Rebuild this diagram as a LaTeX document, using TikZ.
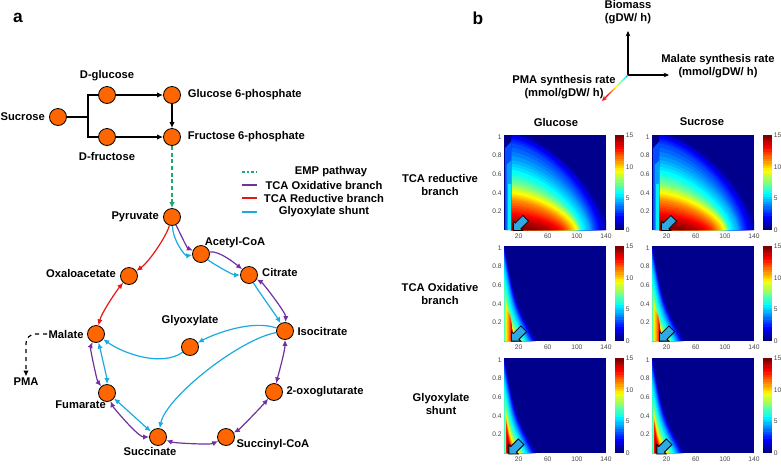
\documentclass[tikz,border=0pt]{standalone}
\usepackage{fontspec}
\setmainfont{Liberation Sans}
\usetikzlibrary{arrows.meta,positioning,shapes.arrows,calc}

\definecolor{metorange}{RGB}{255,102,0}
\definecolor{tcaox}{RGB}{112,48,160}
\definecolor{tcared}{RGB}{235,20,20}
\definecolor{glyox}{RGB}{25,170,225}
\definecolor{empgreen}{RGB}{30,170,110}
\definecolor{jetbg}{rgb}{0,0,0.55}
\definecolor{arrblue}{RGB}{45,170,228}
\definecolor{ticktext}{RGB}{70,70,70}

% jet colour map, value in [0,1] -> colour jc
\newcommand{\setjet}[1]{%
  \pgfmathsetmacro{\jetR}{max(0,min(1,1.5-abs(4*(#1)-3)))}%
  \pgfmathsetmacro{\jetG}{max(0,min(1,1.5-abs(4*(#1)-2)))}%
  \pgfmathsetmacro{\jetB}{max(0,min(1,1.5-abs(4*(#1)-1)))}%
  \definecolor{jc}{rgb}{\jetR,\jetG,\jetB}}

% one contour of the reductive map: value, x radius, y radius
\newcommand{\hlayer}[3]{%
  \setjet{#1}%
  \fill[jc] (10,0) -- ({10+(#2)},0) -- plot[domain=1:89,samples=30] ({10+(#2)*cos(\x)^1.333},{(#3)*sin(\x)^1.333}) -- (10,{#3}) -- cycle;}

% one contour of a wedge map: value, left x, height, right x
\newcommand{\wlayer}[4]{%
  \setjet{#1}%
  \fill[jc] ({#2},0) -- ({#2},{#3}) .. controls ({(#2)+0.35*((#4)-(#2))},{0.4*(#3)}) .. ({#4},0) -- cycle;}

% TCA reductive branch map
\newcommand{\hmapred}{%
  \fill[jetbg] (0,0) rectangle (140,1.02);
  \foreach \v/\rx/\ry [remember=\v as \pv (initially 0), remember=\rx as \prx (initially 136), remember=\ry as \pry (initially 1.08)] in {0.05/130/1.04,0.10/125/1.02,0.15/120/0.98,0.20/115/0.93,0.25/111/0.84,0.30/108/0.75,0.35/102/0.68,0.40/97/0.61,0.45/95/0.555,0.50/94/0.50,0.55/92/0.465,0.60/91/0.43,0.65/88/0.39,0.70/84/0.355,0.75/80/0.32,0.80/76/0.265,0.85/71/0.21,0.90/63/0.16,0.95/53/0.11,1.00/35/0.05}{%
    \hlayer{(\pv+\v)/2}{(\prx+\rx)/2}{(\pry+\ry)/2}
    \hlayer{\v}{\rx}{\ry}
  }
  \setjet{0.2}
  \fill[jc] (1.5,0) -- (1.5,0.88) -- (10,0.95) -- (10,0) -- cycle;
  \setjet{0.28}
  \fill[jc] (3.5,0) -- (3.5,0.7) -- (10,0.75) -- (10,0) -- cycle;
  \setjet{0.36}
  \fill[jc] (6,0) rectangle (10,0.5);
}

% wedge shaped maps
\newcommand{\hmapwedge}[1]{%
  \fill[jetbg] (0,0) rectangle (140,1.02);
  \foreach \v/\xl/\h/\xr [remember=\v as \pv (initially 0), remember=\xl as \pxl (initially 0), remember=\h as \ph (initially 1.08), remember=\xr as \pxr (initially 46)] in {#1}{%
    \wlayer{(\pv+\v)/2}{(\pxl+\xl)/2}{(\ph+\h)/2}{(\pxr+\xr)/2}
    \wlayer{\v}{\xl}{\h}{\xr}
  }}
\newcommand{\hmapox}{\hmapwedge{0.10/0/1.02/42,0.20/0/0.96/38,0.30/0/0.88/34,0.375/0/0.75/30,0.45/0.5/0.60/27,0.53/1.5/0.50/24,0.60/2.5/0.42/21,0.68/4/0.36/18.5,0.76/7/0.31/16.5,0.84/9/0.28/15,0.92/10/0.20/14,1.00/10.5/0.07/13.5}}
\newcommand{\hmapgly}{\hmapwedge{0.10/0/1.02/42,0.20/0/0.95/38,0.30/0/0.86/34,0.375/0.3/0.74/30,0.45/0.8/0.62/27,0.53/1.3/0.53/24,0.60/1.8/0.46/21,0.68/2.3/0.40/18.5,0.76/2.8/0.35/16,0.84/3.3/0.31/14,0.92/3.8/0.23/12.5,1.00/4.3/0.11/11}}

% colour bar, ticks and marker
\newcommand{\hmapaxes}[2]{%
  \foreach \i in {0,...,39}{\setjet{\i/39}\fill[jc] (152.3,{1.02*\i/40}) rectangle (164.7,{1.02*(\i+1.2)/40});}
  \foreach \c [count=\k] in {0,5,10,15} \node[ticklbl, anchor=west] (cb\k) at (165.5,{1.02*\c/15}) {\c};
  \foreach \t [count=\k] in {0.2,0.4,0.6,0.8,1} \node[ticklbl, anchor=east] (yt\k) at (-1.5,\t) {\t};
  \foreach \t [count=\k] in {20,60,100,140} \node[ticklbl, anchor=north] (xt\k) at (\t,-0.03) {\t};
  \node[blockarr, rotate=225] (pick) at (#1,#2) {};
}

\begin{document}
\begin{tikzpicture}[
    x=0.75pt, y=-0.75pt,
    hd/.tip={Latex[length=4.5pt,width=4pt]},
    met/.style={circle, draw=black, fill=metorange, line width=0.6pt, minimum size=12.75pt, inner sep=0pt},
    lbl/.style={font=\fontsize{8.4}{10}\selectfont\bfseries, inner sep=1pt, align=center},
    panel/.style={font=\fontsize{13}{14}\selectfont\bfseries},
    arr/.style={-hd, line width=0.9pt},
    darr/.style={hd-hd, line width=0.9pt},
    axarr/.style={-{Stealth[length=4pt,width=3.5pt]}, line width=0.8pt},
    ticklbl/.style={font=\fontsize{5}{6}\selectfont, text=ticktext, inner sep=0.8pt},
    blockarr/.style={single arrow, draw=black, fill=arrblue, line width=0.6pt, minimum height=13pt, minimum width=10pt, inner sep=2.4pt, single arrow head extend=1.8pt}
]
    \useasboundingbox (0,0) rectangle (781,465);

    \node[panel] (pa) at (18,18) {a};
    \node[panel] (pb) at (478,18) {b};

    % sugars
    \node[met] (suc) at (58,117) {};
    \node[met] (glc) at (107,95) {};
    \node[met] (fru) at (107,137) {};
    \node[met] (g6p) at (172,95) {};
    \node[met] (f6p) at (172,137) {};
    \node[lbl, left=2pt of suc] (sucl) {Sucrose};
    \node[lbl, above=2.5pt of glc] (glcl) {D-glucose};
    \node[lbl, below=3.5pt of fru] (frul) {D-fructose};
    \node[lbl, right=4pt of g6p] (g6pl) {Glucose 6-phosphate};
    \node[lbl, right=4pt of f6p] (f6pl) {Fructose 6-phosphate};

    \coordinate (split) at (88,117);
    \draw[line width=0.9pt] (suc) -- (split);
    \draw[line width=0.9pt] (split) |- (glc);
    \draw[line width=0.9pt] (split) |- (fru);
    \draw[arr] (glc) -- (g6p);
    \draw[arr] (fru) -- (f6p);
    \draw[arr] (g6p) -- (f6p);

    % central metabolism
    \node[met] (pyr) at (172,217) {};
    \node[met] (acoa) at (201,254) {};
    \node[met] (cit) at (249,275) {};
    \node[met] (iso) at (285,331) {};
    \node[met] (ogl) at (274,392) {};
    \node[met] (scoa) at (226,437) {};
    \node[met] (succ) at (158,437) {};
    \node[met] (fum) at (107,393) {};
    \node[met] (mal) at (96,334) {};
    \node[met] (oaa) at (129,276) {};
    \node[met] (gly) at (190,347) {};

    \node[lbl, left=2pt of pyr] (pyrl) {Pyruvate};
    \node[lbl, above right=-1pt and -3pt of acoa] (acoal) {Acetyl-CoA};
    \node[lbl, right=2pt of cit, yshift=2pt] (citl) {Citrate};
    \node[lbl, right=1.5pt of iso] (isol) {Isocitrate};
    \node[lbl, right=1.5pt of ogl] (ogll) {2-oxoglutarate};
    \node[lbl, right=0pt of scoa, yshift=-6pt] (scoal) {Succinyl-CoA};
    \node[lbl, below=0pt of succ, xshift=-6pt] (succl) {Succinate};
    \node[lbl, below left=0pt and -5pt of fum] (fuml) {Fumarate};
    \node[lbl, left=1.5pt of mal] (mall) {Malate};
    \node[lbl, left=2pt of oaa, yshift=2pt] (oaal) {Oxaloacetate};
    \node[lbl, above=8pt of gly] (glyl) {Glyoxylate};
    \node[lbl] (pma) at (26,382) {PMA};

    \draw[arr, empgreen, dash pattern=on 3pt off 2pt] (f6p) -- (pyr);

    % reductive branch
    \draw[arr, tcared] (pyr) .. controls +(-6,20) and +(20,-14) .. (oaa);
    \draw[darr, tcared] (mal) .. controls +(6,-22) and +(-12,14) .. (oaa);

    % oxidative branch
    \draw[arr, tcaox] (pyr) .. controls +(8,16) and +(-14,-6) .. (acoa);
    \draw[arr, tcaox] (acoa) .. controls +(18,-4) and +(-12,-10) .. (cit);
    \draw[darr, tcaox] (cit) .. controls +(14,8) and +(1,-18) .. (iso);
    \draw[darr, tcaox] (iso) .. controls +(0,20) and +(4,-16) .. (ogl);
    \draw[darr, tcaox] (ogl) .. controls +(-12,14) and +(14,-8) .. (scoa);
    \draw[darr, tcaox] (scoa) .. controls +(-16,8) and +(16,6) .. (succ);
    \draw[darr, tcaox] (succ) .. controls +(-20,0) and +(6,14) .. (fum);
    \draw[darr, tcaox] (fum) .. controls +(-10,-12) and +(-6,14) .. (mal);

    % glyoxylate shunt
    \draw[arr, glyox] (pyr) .. controls +(1,24) and +(-16,2) .. (acoa);
    \draw[arr, glyox] (acoa) .. controls +(12,10) and +(-16,0) .. (cit);
    \draw[arr, glyox] (cit) .. controls +(8,14) and +(-8,-14) .. (iso);
    \draw[arr, glyox] (iso) .. controls +(-34,-12) and +(22,-12) .. (gly);
    \draw[arr, glyox] (gly) .. controls +(-28,20) and +(28,20) .. (mal);
    \draw[arr, glyox] (iso) .. controls +(-45,8) and +(8,-40) .. (succ);
    \draw[darr, glyox] (succ) .. controls +(-10,-8) and +(10,8) .. (fum);
    \draw[darr, glyox] (fum) .. controls +(0,-14) and +(4,14) .. (mal);

    \draw[arr, dashed, rounded corners=7pt] (mall.west) -| (pma.north);

    % legend
    \draw[empgreen, line width=0.9pt, dash pattern=on 2pt off 1.5pt] (242,172) -- (257,172);
    \draw[tcaox, line width=0.9pt] (242,185) -- (257,185);
    \draw[tcared, line width=0.9pt] (242,198) -- (257,198);
    \draw[glyox, line width=0.9pt] (242,212) -- (257,212);
    \node[lbl] (lgemp) at (331,172) {EMP pathway};
    \node[lbl] (lgox) at (324,185) {TCA Oxidative branch};
    \node[lbl] (lgred) at (324,198) {TCA Reductive branch};
    \node[lbl] (lggly) at (324,212) {Glyoxylate shunt};

    % axes glyph
    \coordinate (ax0) at (628,75);
    \coordinate (axup) at (628,31);
    \coordinate (axrt) at (669,75);
    \coordinate (axdl) at (602,101);
    \draw[axarr] (ax0) -- (axup);
    \draw[axarr] (ax0) -- (axrt);
    \foreach \i [evaluate=\i as \fa using \i/12, evaluate=\i as \fb using (\i+1)/12] in {0,...,9}{%
        \setjet{0.3+0.065*\i}
        \draw[jc, line width=0.9pt] ($(ax0)!\fa!(axdl)$) -- ($(ax0)!\fb!(axdl)$);
    }
    \draw[tcared, line width=0.9pt, -{Stealth[length=4pt,width=3.5pt]}] ($(ax0)!0.83!(axdl)$) -- (axdl);
    \node[lbl] (bio) at (628,12) {Biomass\\(gDW/ h)};
    \node[lbl] (malr) at (718,66) {Malate synthesis rate\\(mmol/gDW/ h)};
    \node[lbl] (pmar) at (564,87) {PMA synthesis rate\\(mmol/gDW/ h)};

    \node[lbl] (cglc) at (556,122) {Glucose};
    \node[lbl] (csuc) at (702,122) {Sucrose};
    \node[lbl] (rred) at (440,185) {TCA reductive\\branch};
    \node[lbl] (rox) at (440,294) {TCA Oxidative\\branch};
    \node[lbl] (rgly) at (441,404) {Glyoxylate\\shunt};

    % heat maps
    \begin{scope}[shift={(504,230)}, x=0.5464pt, y=69.75pt]
        \begin{scope} \clip (0,0) rectangle (140,1.02); \hmapred \end{scope}
        \hmapaxes{23.3}{0.075}
    \end{scope}
    \begin{scope}[shift={(652,230)}, x=0.5464pt, y=69.75pt]
        \begin{scope} \clip (0,0) rectangle (140,1.02); \hmapred \end{scope}
        \hmapaxes{23.3}{0.075}
    \end{scope}
    \begin{scope}[shift={(504,341)}, x=0.5464pt, y=69.75pt]
        \begin{scope} \clip (0,0) rectangle (140,1.02); \hmapox \end{scope}
        \hmapaxes{20.6}{0.08}
    \end{scope}
    \begin{scope}[shift={(652,341)}, x=0.5464pt, y=69.75pt]
        \begin{scope} \clip (0,0) rectangle (140,1.02); \hmapox \end{scope}
        \hmapaxes{20.6}{0.08}
    \end{scope}
    \begin{scope}[shift={(504,453)}, x=0.5464pt, y=69.75pt]
        \begin{scope} \clip (0,0) rectangle (140,1.02); \hmapgly \end{scope}
        \hmapaxes{17}{0.07}
    \end{scope}
    \begin{scope}[shift={(652,453)}, x=0.5464pt, y=69.75pt]
        \begin{scope} \clip (0,0) rectangle (140,1.02); \hmapgly \end{scope}
        \hmapaxes{17}{0.07}
    \end{scope}
\end{tikzpicture}
\end{document}
